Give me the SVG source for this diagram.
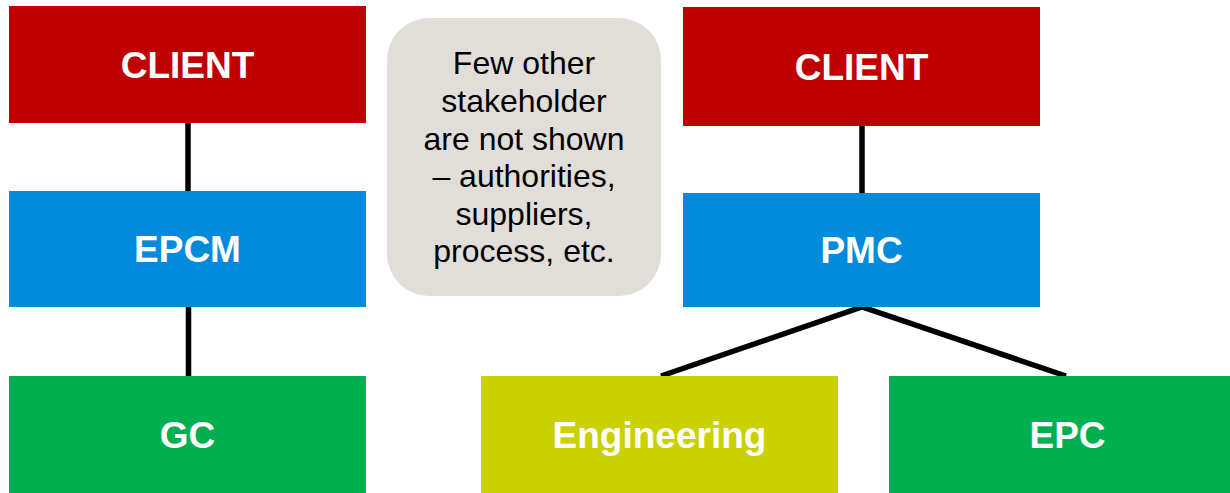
<svg xmlns="http://www.w3.org/2000/svg" width="1230" height="493" viewBox="0 0 1230 493">
<style>
.lbl{font-family:"Liberation Sans",Arial,sans-serif;font-weight:bold;font-size:37px;fill:#fff;text-anchor:middle}
.note{font-family:"Liberation Sans",Arial,sans-serif;font-size:32px;fill:#000;text-anchor:middle}
.red{fill:#C00000}.blue{fill:#028BDA}.green{fill:#00AF50}.lime{fill:#CBD100}
.conn{stroke:#000;stroke-width:5.5;fill:none}
</style>
<rect width="1230" height="493" fill="#fff"/>
<g id="connectors">
<line class="conn" x1="188" y1="123" x2="188" y2="191"/>
<line class="conn" x1="188.5" y1="307" x2="188.5" y2="376"/>
<line class="conn" x1="862" y1="126" x2="862" y2="193"/>
<polyline class="conn" points="661,376 862,307 1066,376"/>
</g>
<g id="client-left"><rect class="red" x="9" y="6" width="357" height="117"/><text class="lbl" x="187.5" y="78">CLIENT</text></g>
<g id="epcm"><rect class="blue" x="9" y="191" width="357" height="116"/><text class="lbl" x="187.5" y="262">EPCM</text></g>
<g id="gc"><rect class="green" x="9" y="376" width="357" height="117"/><text class="lbl" x="187.5" y="448">GC</text></g>
<g id="note"><rect x="387" y="18" width="274" height="278" rx="42" fill="#E1DED9"/>
<text class="note" x="524" y="74">Few other</text>
<text class="note" x="524" y="112">stakeholder</text>
<text class="note" x="524" y="149.5">are not shown</text>
<text class="note" x="524" y="187">– authorities,</text>
<text class="note" x="524" y="224.5">suppliers,</text>
<text class="note" x="524" y="262">process, etc.</text></g>
<g id="client-right"><rect class="red" x="683" y="7" width="357" height="119"/><text class="lbl" x="861.5" y="80">CLIENT</text></g>
<g id="pmc"><rect class="blue" x="683" y="193" width="357" height="114"/><text class="lbl" x="861.5" y="263">PMC</text></g>
<g id="engineering"><rect class="lime" x="481" y="376" width="357" height="117"/><text class="lbl" x="659.5" y="448">Engineering</text></g>
<g id="epc"><rect class="green" x="889" y="376" width="357" height="117"/><text class="lbl" x="1067.5" y="448">EPC</text></g>
</svg>
